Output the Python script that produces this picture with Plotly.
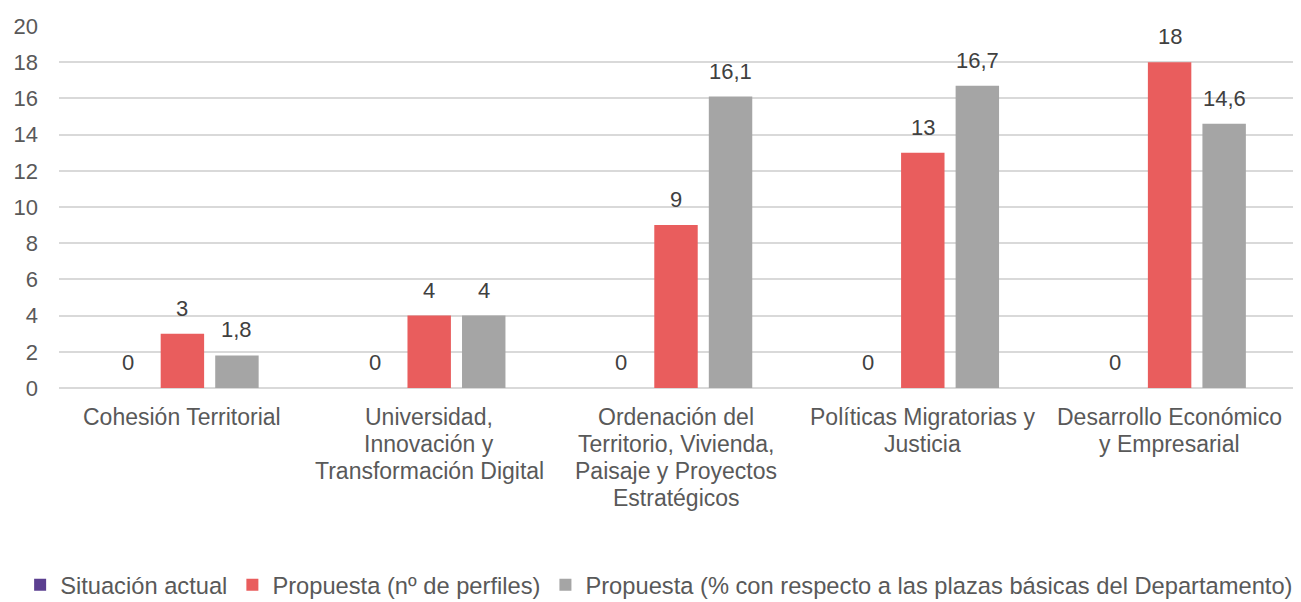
import plotly.graph_objects as go

categories = [
    "Cohesión Territorial",
    "Universidad,<br>Innovación y<br>Transformación Digital",
    "Ordenación del<br>Territorio, Vivienda,<br>Paisaje y Proyectos<br>Estratégicos",
    "Políticas Migratorias y<br>Justicia",
    "Desarrollo Económico<br>y Empresarial",
]
situacion_actual = [0, 0, 0, 0, 0]
propuesta_perfiles = [3, 4, 9, 13, 18]
propuesta_pct = [1.8, 4, 16.1, 16.7, 14.6]

series_names = [
    "Situación actual",
    "Propuesta (nº de perfiles)",
    "Propuesta (% con respecto a las plazas básicas del Departamento)",
]
colors = ["#5B3F90", "#E95D5D", "#A5A5A5"]
offsets = [-0.309, -0.088, 0.133]
width = 0.176

def fmt(v):
    s = ("%g" % v)
    return s.replace(".", ",")

font_family = "Liberation Sans, Arial, sans-serif"
text_color = "#595959"
fs = 22
fs_cat = 23
fs_leg = 23.7
line_gap = 27

fig = go.Figure()
annotations = []
xs = list(range(len(categories)))
for name, vals, col, off in zip(series_names, [situacion_actual, propuesta_perfiles, propuesta_pct], colors, offsets):
    fig.add_trace(go.Bar(
        x=xs,
        y=vals,
        name=name,
        marker=dict(color=col, line=dict(width=0)),
        width=width,
        offset=off,
        cliponaxis=False,
    ))
    for xi, v in zip(xs, vals):
        annotations.append(dict(
            x=xi + off + width / 2,
            y=v,
            xref="x",
            yref="y",
            text=fmt(v),
            showarrow=False,
            yanchor="bottom",
            yshift=11,
            font=dict(size=fs, color="#404040", family=font_family),
        ))

# category labels, one annotation per line for tight line spacing
for xi, cat in zip(xs, categories):
    for k, line in enumerate(cat.split("<br>")):
        annotations.append(dict(
            x=xi,
            y=0,
            xref="x",
            yref="paper",
            text=line,
            showarrow=False,
            yanchor="top",
            yshift=-14 - k * line_gap,
            font=dict(size=fs_cat, color=text_color, family=font_family),
        ))

fig.update_layout(
    width=1301,
    height=602,
    margin=dict(l=51, r=16, t=18, b=222, autoexpand=False),
    plot_bgcolor="white",
    paper_bgcolor="white",
    barmode="group",
    font=dict(family=font_family, size=fs, color=text_color),
    showlegend=True,
    annotations=annotations,
    legend=dict(
        orientation="h",
        x=-0.0315,
        xanchor="left",
        y=-0.544,
        yanchor="middle",
        font=dict(size=fs_leg, color=text_color),
        itemwidth=30,
        traceorder="normal",
    ),
    xaxis=dict(
        tickmode="array",
        tickvals=xs,
        showticklabels=False,
        range=[-0.5, len(categories) - 0.5],
        showgrid=False,
        zeroline=False,
        showline=False,
        ticks="",
    ),
    yaxis=dict(
        range=[0, 20],
        dtick=2,
        showgrid=True,
        gridcolor="#D9D9D9",
        gridwidth=1.5,
        zeroline=True,
        zerolinecolor="#D9D9D9",
        zerolinewidth=1.5,
        showline=False,
        ticks="",
        tickfont=dict(size=fs, color=text_color),
        ticklabelstandoff=20,
    ),
)

fig.write_html("out.html")
